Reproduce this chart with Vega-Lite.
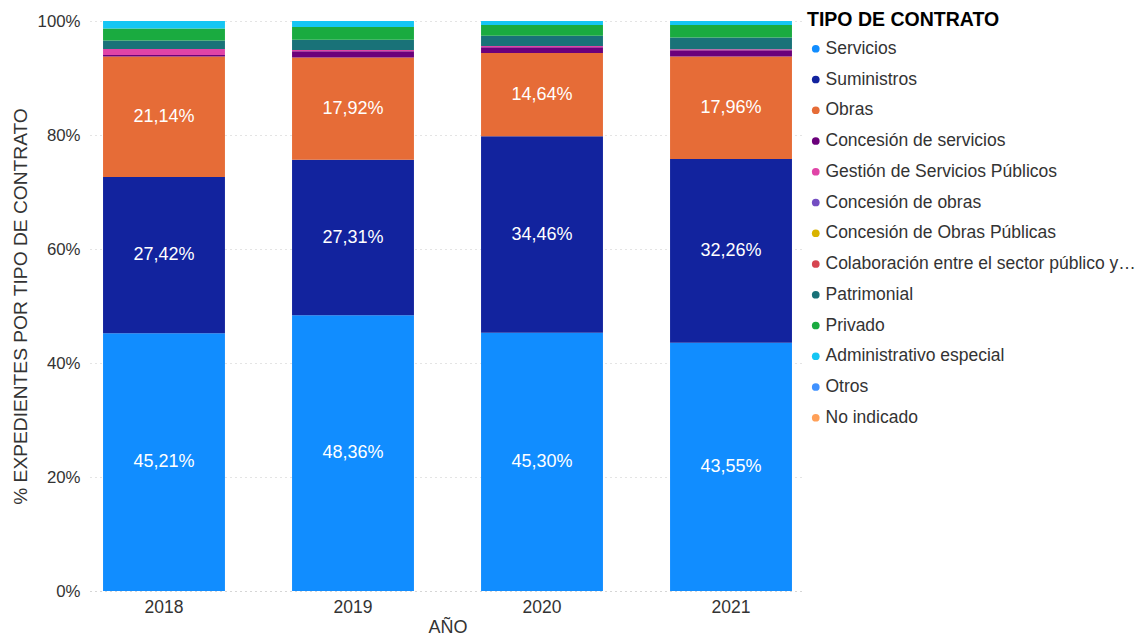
{
  "$schema": "https://vega.github.io/schema/vega-lite/v6.json",
  "autosize": {"type": "none"},
  "width": 715,
  "height": 570,
  "padding": {"left": 90, "top": 21, "right": 335, "bottom": 45},
  "background": "white",
  "config": {
    "font": "Liberation Sans",
    "view": {"stroke": null},
    "locale": {"number": {"decimal": ",", "thousands": ".", "grouping": [3], "currency": ["", " €"]}}
  },
  "data": {
    "values": [
      {"anio": "2018", "tipo": "Servicios", "valor": 0.4521},
      {"anio": "2018", "tipo": "Suministros", "valor": 0.2742},
      {"anio": "2018", "tipo": "Obras", "valor": 0.2114},
      {"anio": "2018", "tipo": "Concesión de servicios", "valor": 0.0028},
      {"anio": "2018", "tipo": "Gestión de Servicios Públicos", "valor": 0.0105},
      {"anio": "2018", "tipo": "Patrimonial", "valor": 0.015},
      {"anio": "2018", "tipo": "Privado", "valor": 0.021},
      {"anio": "2018", "tipo": "Administrativo especial", "valor": 0.013},
      {"anio": "2019", "tipo": "Servicios", "valor": 0.4836},
      {"anio": "2019", "tipo": "Suministros", "valor": 0.2731},
      {"anio": "2019", "tipo": "Obras", "valor": 0.1792},
      {"anio": "2019", "tipo": "Concesión de servicios", "valor": 0.0111},
      {"anio": "2019", "tipo": "Gestión de Servicios Públicos", "valor": 0.002},
      {"anio": "2019", "tipo": "Patrimonial", "valor": 0.018},
      {"anio": "2019", "tipo": "Privado", "valor": 0.0225},
      {"anio": "2019", "tipo": "Administrativo especial", "valor": 0.0105},
      {"anio": "2020", "tipo": "Servicios", "valor": 0.453},
      {"anio": "2020", "tipo": "Suministros", "valor": 0.3446},
      {"anio": "2020", "tipo": "Obras", "valor": 0.1464},
      {"anio": "2020", "tipo": "Concesión de servicios", "valor": 0.01},
      {"anio": "2020", "tipo": "Gestión de Servicios Públicos", "valor": 0.002},
      {"anio": "2020", "tipo": "Patrimonial", "valor": 0.018},
      {"anio": "2020", "tipo": "Privado", "valor": 0.019},
      {"anio": "2020", "tipo": "Administrativo especial", "valor": 0.007},
      {"anio": "2021", "tipo": "Servicios", "valor": 0.4355},
      {"anio": "2021", "tipo": "Suministros", "valor": 0.3226},
      {"anio": "2021", "tipo": "Obras", "valor": 0.1796},
      {"anio": "2021", "tipo": "Concesión de servicios", "valor": 0.0108},
      {"anio": "2021", "tipo": "Gestión de Servicios Públicos", "valor": 0.002},
      {"anio": "2021", "tipo": "Patrimonial", "valor": 0.0205},
      {"anio": "2021", "tipo": "Privado", "valor": 0.022},
      {"anio": "2021", "tipo": "Administrativo especial", "valor": 0.007}
    ]
  },
  "transform": [
    {"calculate": "indexof(['Servicios','Suministros','Obras','Concesión de servicios','Gestión de Servicios Públicos','Concesión de obras','Concesión de Obras Públicas','Colaboración entre el sector público y privado','Patrimonial','Privado','Administrativo especial','Otros','No indicado'], datum.tipo)", "as": "orden"},
    {"stack": "valor", "groupby": ["anio"], "sort": [{"field": "orden", "order": "ascending"}], "offset": "normalize", "as": ["y0", "y1"]},
    {"calculate": "(datum.y0 + datum.y1) / 2", "as": "ymid"}
  ],
  "encoding": {
    "x": {
      "field": "anio", "type": "nominal",
      "scale": {"paddingInner": 0.355, "paddingOuter": 0.069},
      "axis": {
        "title": "AÑO", "labelAngle": 0, "labelFontSize": 17.5, "labelColor": "#333333",
        "titleFontSize": 18, "titleColor": "#333333", "titleFontWeight": "normal",
        "domain": true, "domainColor": "#c8c8c8", "domainDash": [1, 4], "ticks": false,
        "labelPadding": 7, "titlePadding": 3
      }
    }
  },
  "layer": [
    {
      "mark": {"type": "bar"},
      "encoding": {
        "y": {
          "field": "y0", "type": "quantitative",
          "scale": {"domain": [0, 1], "nice": false},
          "axis": {
            "title": "% EXPEDIENTES POR TIPO DE CONTRATO", "format": ".0%",
            "values": [0, 0.2, 0.4, 0.6, 0.8, 1], "labelOverlap": false, "labelBound": false,
            "labelFontSize": 16.8, "labelColor": "#333333", "labelPadding": 10,
            "titleFontSize": 19.2, "titleColor": "#333333", "titleFontWeight": "normal",
            "titleX": -70, "titleY": 285, "titleAngle": -90, "titleBaseline": "middle", "titleAlign": "center",
            "domain": false, "ticks": false,
            "grid": true, "gridColor": "#c8c8c8", "gridDash": [1, 4]
          }
        },
        "y2": {"field": "y1"},
        "color": {
          "field": "tipo", "type": "nominal",
          "scale": {
            "domain": ["Servicios", "Suministros", "Obras", "Concesión de servicios", "Gestión de Servicios Públicos", "Concesión de obras", "Concesión de Obras Públicas", "Colaboración entre el sector público y privado", "Patrimonial", "Privado", "Administrativo especial", "Otros", "No indicado"],
            "range": ["#118DFF", "#12239E", "#E66C37", "#6B007B", "#E044A7", "#744EC2", "#D9B300", "#D64550", "#197278", "#1AAB40", "#15C6F4", "#4092FF", "#FFA058"]
          },
          "legend": {
            "orient": "none", "legendX": 717, "legendY": -10,
            "title": "TIPO DE CONTRATO", "titleFontSize": 19.5, "titleFontWeight": "bold", "titleColor": "#000000", "titleLimit": 330,
            "labelFontSize": 17.5, "labelColor": "#333333", "labelLimit": 312, "labelOffset": 1,
            "symbolType": "circle", "symbolSize": 60, "symbolStrokeWidth": 0,
            "rowPadding": 11.75, "titlePadding": 9.5, "padding": 0
          }
        }
      }
    },
    {
      "transform": [{"filter": "datum.orden <= 2"}],
      "mark": {"type": "text", "color": "white", "fontSize": 18, "baseline": "middle", "align": "center"},
      "encoding": {
        "y": {"field": "ymid", "type": "quantitative"},
        "text": {"field": "valor", "type": "quantitative", "format": ".2%"}
      }
    }
  ]
}
